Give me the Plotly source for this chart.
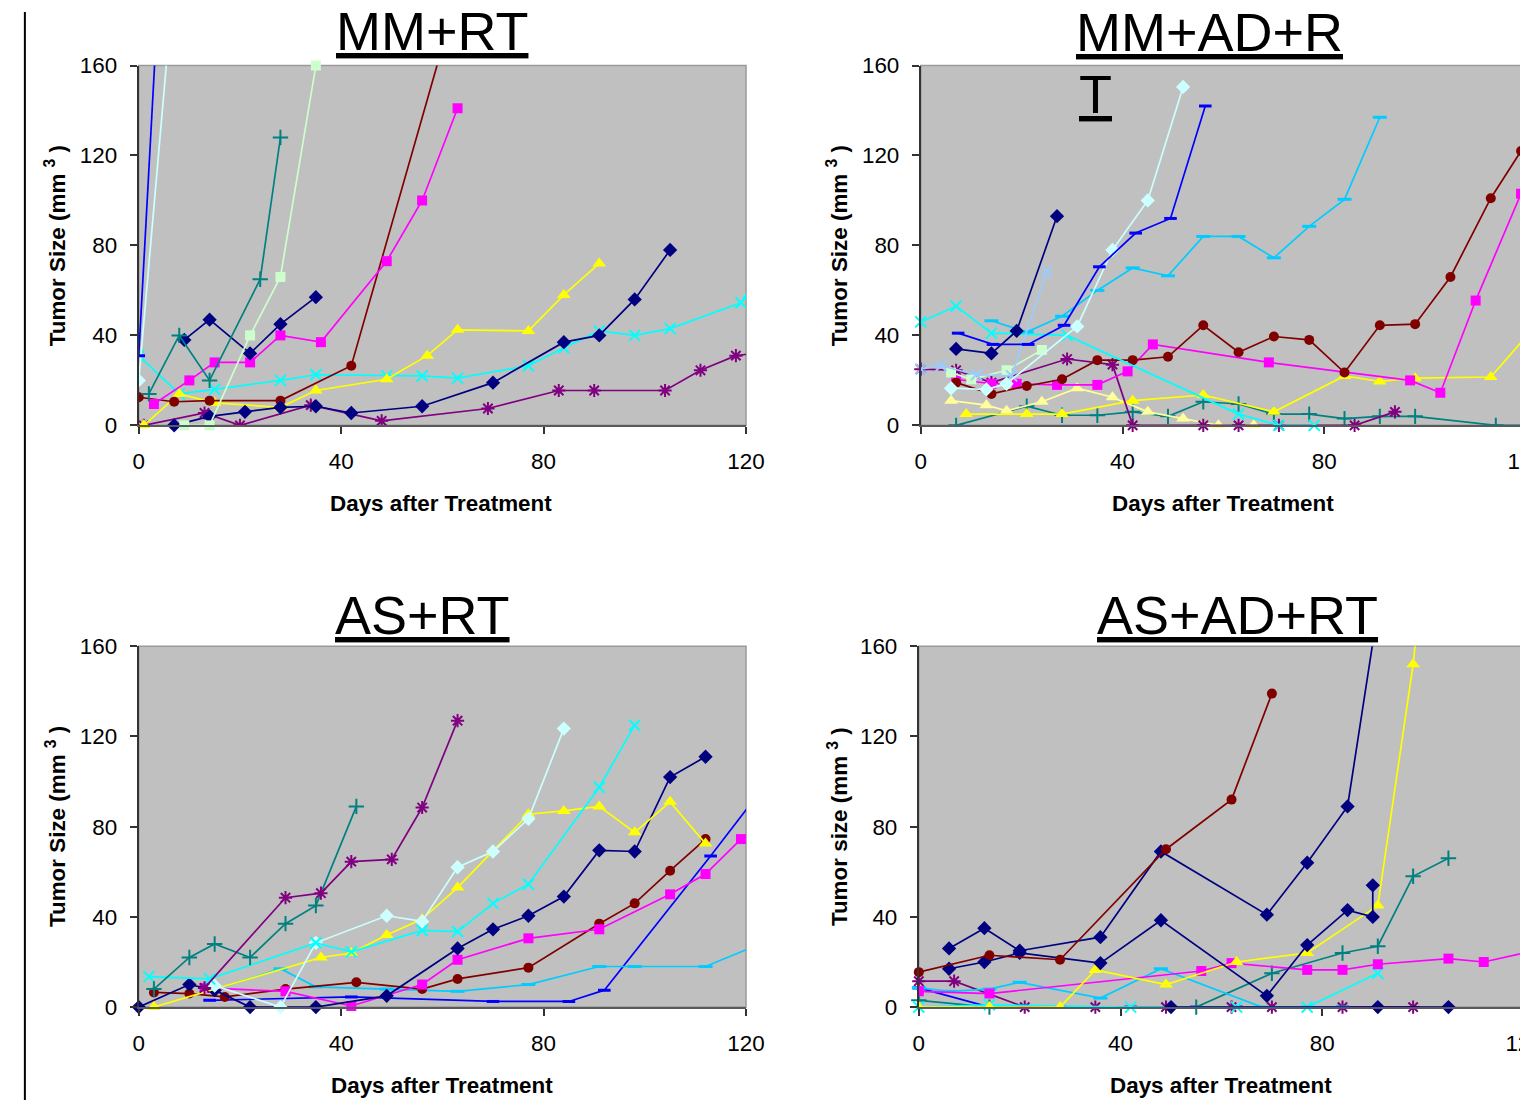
import plotly.graph_objects as go

# ------------------------------------------------------------------ data
# Panel 1: MM+RT  (days after treatment, tumor size mm3)
MMRT_BLUE_D = [0, 7]
MMRT_BLUE_V = [31, 320]
MMRT_LCYAN_D = [0, 7]
MMRT_LCYAN_V = [20, 200]
MMRT_TEAL_D = [2, 8, 14, 24, 28]
MMRT_TEAL_V = [14, 40, 20, 65, 128]
MMRT_LGREEN_D = [9, 14, 22, 28, 35]
MMRT_LGREEN_V = [0, 0, 40, 66, 160]
MMRT_NAVY1_D = [9, 14, 22, 28, 35]
MMRT_NAVY1_V = [38, 47, 32, 45, 57]
MMRT_NAVY2_D = [7, 14, 21, 28, 35, 42, 56, 70, 84, 91, 98, 105]
MMRT_NAVY2_V = [0, 4, 6, 8, 8.5, 5.5, 8.5, 19, 37, 40, 56, 78]
MMRT_MAGENTA_D = [3, 10, 15, 22, 28, 36, 49, 56, 63]
MMRT_MAGENTA_V = [9.5, 20, 28, 28, 40, 37, 73, 100, 141]
MMRT_MAROON_D = [0, 7, 14, 28, 42, 63]
MMRT_MAROON_V = [12.5, 10.5, 11, 11, 26.5, 192]
MMRT_YELLOW_D = [1, 8, 15, 28, 35, 49, 57, 63, 77, 84, 91]
MMRT_YELLOW_V = [0, 14, 10, 8, 15.5, 20.5, 31, 42.5, 42, 58, 72]
MMRT_CYAN_D = [0, 8, 15, 28, 35, 49, 56, 63, 77, 84, 91, 98, 105, 119, 126]
MMRT_CYAN_V = [31, 14, 16, 20, 22.5, 22, 22, 21, 26.5, 34.5, 42, 40, 43, 54.5, 81]
MMRT_PURPLE_D = [1, 13, 20, 34, 48, 69, 83, 90, 104, 111, 118, 125]
MMRT_PURPLE_V = [0, 5.5, 0, 9, 2, 7.5, 15.5, 15.5, 15.5, 24.5, 31, 33]

# Panel 2: MM+AD+RT
MAD_CYAN_D = [0, 7, 14, 29, 63, 71, 78]
MAD_CYAN_V = [46, 53, 41, 40, 5, 0, 0]
MAD_NAVY_D = [7, 14, 19, 27]
MAD_NAVY_V = [34, 32, 42, 93]
MAD_BLUE_D = [7.4, 14.3, 21.3, 28.4, 35.4, 42.6, 49.5, 56.4]
MAD_BLUE_V = [41, 36, 36, 44.5, 70.5, 85.5, 92, 142]
MAD_PALEBLUE_D = [0, 4, 11, 18, 25]
MAD_PALEBLUE_V = [25, 26.5, 22.5, 22, 68.5]
MAD_SKYBLUE_D = [14, 21, 28, 35, 42, 49, 56, 63, 70, 77, 84, 91]
MAD_SKYBLUE_V = [46.5, 41.5, 48.5, 60, 70, 66.5, 84, 84, 74.5, 88.5, 100.5, 137]
MAD_LCYAN_D = [6, 13, 17, 31, 38, 45, 52]
MAD_LCYAN_V = [16.5, 16, 18.5, 44, 78, 100, 150.5]
MAD_LGREEN_D = [6, 10, 17, 24]
MAD_LGREEN_V = [23.5, 20.5, 24.5, 33.5]
MAD_PURPLE_D = [0, 7, 14, 29, 38, 42, 56, 63, 71, 86, 94]
MAD_PURPLE_V = [25, 24.5, 19, 29.5, 27, 0, 0, 0, 0, 0, 6]
MAD_MAROON_D = [7, 14, 21, 28, 35, 42, 49, 56, 63, 70, 77, 84, 91, 98, 105, 113, 119]
MAD_MAROON_V = [19, 14, 17.5, 20.5, 29, 29, 30.5, 44.5, 32.5, 39.5, 38, 23.5, 44.5, 45, 66, 101, 122]
MAD_MAGENTA_D = [7, 14, 19, 27, 35, 41, 46, 69, 97, 103, 110, 119]
MAD_MAGENTA_V = [20.5, 18.5, 18.5, 18, 18, 24, 36, 28, 20, 14.5, 55.5, 103]
MAD_YELLOW_D = [9, 21, 28, 42, 56, 70, 84, 91, 98, 113, 121]
MAD_YELLOW_V = [5, 5, 5, 11, 13.5, 6, 22, 19.5, 21, 21.5, 42]
MAD_LYELLOW_D = [6, 13, 17, 24, 31, 38, 45, 52, 59, 66]
MAD_LYELLOW_V = [11, 9, 6.5, 10.5, 16.5, 12.5, 6, 3, 0, 0]
MAD_TEAL_D = [7, 21, 28, 35, 42, 49, 56, 63, 70, 77, 84, 91, 98, 114, 126]
MAD_TEAL_V = [0, 8.5, 4.5, 4.5, 6, 4, 10.5, 9.5, 5, 5, 3, 4, 4, 0, 0]

# Panel 3: AS+RT
ASRT_TEAL_D = [3, 10, 15, 22, 29, 35, 43]
ASRT_TEAL_V = [8, 22, 28, 22, 37, 45, 89]
ASRT_PURPLE_D = [13, 29, 36, 42, 50, 56, 63]
ASRT_PURPLE_V = [8.5, 48.5, 50.5, 64.5, 65.5, 88.5, 127]
ASRT_CYAN_D = [2, 14, 35, 42, 56, 63, 70, 77, 91, 98]
ASRT_CYAN_V = [13.5, 12.5, 28.5, 24.5, 34, 33.5, 46, 54.5, 97.5, 125]
ASRT_LCYAN_D = [15, 28, 35, 49, 56, 63, 70, 77, 84]
ASRT_LCYAN_V = [9.5, 0, 28.5, 40.5, 38, 62, 69, 83.5, 123.5]
ASRT_YELLOW_D = [3, 36, 42, 49, 56, 63, 77, 84, 91, 98, 105, 112]
ASRT_YELLOW_V = [0, 22, 24, 32, 39, 53, 85.5, 87, 89, 77.5, 91, 72.5]
ASRT_MAROON_D = [3, 10, 17, 29, 43, 56, 63, 77, 91, 98, 105, 112]
ASRT_MAROON_V = [6.5, 6, 4.5, 8, 11, 8, 12.5, 17.5, 37, 46, 60.5, 74.5]
ASRT_MAGENTA_D = [13, 29, 42, 56, 63, 77, 91, 105, 112, 119]
ASRT_MAGENTA_V = [8.5, 7, 0.5, 10, 21, 30.5, 34.5, 50, 59, 74.5]
ASRT_NAVY_D = [0, 10, 15, 22, 35, 49, 63, 70, 77, 84, 91, 98, 105, 112]
ASRT_NAVY_V = [0, 10, 7.5, 0, 0, 5, 26, 34.5, 40.5, 49, 69.5, 69, 102, 111]
ASRT_SKYBLUE_D = [14, 28, 35, 49, 63, 77, 91, 98, 112, 126]
ASRT_SKYBLUE_V = [7, 17, 9, 8, 7, 10, 18, 18, 18, 31]
ASRT_BLUE_D = [14, 42, 70, 85, 92, 113, 126]
ASRT_BLUE_V = [3, 4.5, 2.5, 2.5, 7.5, 67, 105]

# Panel 4: AS+AD+RT
ASAD_MAROON_D = [0, 14, 28, 49, 62, 70]
ASAD_MAROON_V = [15.5, 23, 21, 70, 92, 139]
ASAD_NAVYA_D = [6, 13, 20, 36, 48, 69, 77, 85, 91]
ASAD_NAVYA_V = [26, 35, 25, 31, 69, 41, 64, 89, 176]
ASAD_NAVYB_D = [6, 13, 20, 36, 48, 69, 77, 85, 90, 90]
ASAD_NAVYB_V = [17, 20, 24, 19.5, 38.5, 5, 27.5, 43, 40, 54]
ASAD_NAVYC_D = [50, 91, 105]
ASAD_NAVYC_V = [0, 0, 0]
ASAD_YELLOW_D = [0, 14, 28, 35, 49, 63, 77, 91, 98, 105]
ASAD_YELLOW_V = [0, 0, 0, 16.5, 10, 20, 24, 45, 152, 300]
ASAD_MAGENTA_D = [0, 14, 56, 62, 77, 84, 91, 105, 112, 126]
ASAD_MAGENTA_V = [7, 6, 16, 19.5, 16.5, 16.5, 19, 21.5, 20, 27]
ASAD_SKYBLUE_D = [0, 6, 14, 20, 36, 48, 68, 77, 84]
ASAD_SKYBLUE_V = [8.5, 7, 8, 11, 4, 17, 0, 0, 0]
ASAD_CYAN_D = [0, 14, 42, 63, 77, 91]
ASAD_CYAN_V = [0, 1, 0, 0, 0, 15]
ASAD_PURPLE_D = [0, 7, 21, 35, 49, 62, 70, 84, 98]
ASAD_PURPLE_V = [11.5, 11.5, 0, 0, 0, 0, 0, 0, 0]
ASAD_TEAL_D = [0, 14, 55, 70, 84, 91, 98, 105]
ASAD_TEAL_V = [3, 0, 0, 15, 24, 27, 58, 66]
ASAD_BLUE_D = [0, 14, 28, 42, 55, 63, 84]
ASAD_BLUE_V = [8.5, 0, 0, 0, 0, 0, 0]

X_TICKS = [0, 40, 80, 120]
Y_TICKS = [0, 40, 80, 120, 160]
TITLES = ["MM+RT", "MM+AD+RT", "AS+RT", "AS+AD+RT"]
Y_TITLES = ["Tumor Size (mm <sup>3</sup> )", "Tumor Size (mm <sup>3</sup> )",
            "Tumor Size (mm <sup>3</sup> )", "Tumor size (mm <sup>3</sup> )"]
X_TITLE = "Days after Treatment"

# ------------------------------------------------------------------ styles
STYLE = {
    'navy': ('#000080', 'diamond', 11, 0),
    'magenta': ('#FF00FF', 'square', 10, 0),
    'yellow': ('#FFFF00', 'triangle-up', 12, 0),
    'cyan': ('#00FFFF', 'x-thin-open', 11, 2),
    'purple': ('#800080', 'asterisk-open', 11, 2),
    'maroon': ('#800000', 'circle', 10, 0),
    'teal': ('#008080', 'cross-thin-open', 11, 2),
    'blue': ('#0000FF', 'line-ew-open', 9, 3),
    'skyblue': ('#00CCFF', 'line-ew-open', 10, 3),
    'lcyan': ('#CCFFFF', 'diamond', 11, 0),
    'lgreen': ('#CCFFCC', 'square', 10, 0),
    'lyellow': ('#FFFF99', 'triangle-up', 12, 0),
    'paleblue': ('#99CCFF', 'x-thin-open', 11, 2),
}

PANEL_SERIES = [
    [(MMRT_PURPLE_D, MMRT_PURPLE_V, 'purple'), (MMRT_CYAN_D, MMRT_CYAN_V, 'cyan'),
     (MMRT_YELLOW_D, MMRT_YELLOW_V, 'yellow'), (MMRT_MAROON_D, MMRT_MAROON_V, 'maroon'),
     (MMRT_MAGENTA_D, MMRT_MAGENTA_V, 'magenta'), (MMRT_NAVY2_D, MMRT_NAVY2_V, 'navy'),
     (MMRT_NAVY1_D, MMRT_NAVY1_V, 'navy'), (MMRT_LGREEN_D, MMRT_LGREEN_V, 'lgreen'),
     (MMRT_TEAL_D, MMRT_TEAL_V, 'teal'), (MMRT_LCYAN_D, MMRT_LCYAN_V, 'lcyan'),
     (MMRT_BLUE_D, MMRT_BLUE_V, 'blue')],
    [(MAD_TEAL_D, MAD_TEAL_V, 'teal'), (MAD_LYELLOW_D, MAD_LYELLOW_V, 'lyellow'),
     (MAD_YELLOW_D, MAD_YELLOW_V, 'yellow'), (MAD_PURPLE_D, MAD_PURPLE_V, 'purple'),
     (MAD_MAGENTA_D, MAD_MAGENTA_V, 'magenta'), (MAD_MAROON_D, MAD_MAROON_V, 'maroon'),
     (MAD_LGREEN_D, MAD_LGREEN_V, 'lgreen'), (MAD_CYAN_D, MAD_CYAN_V, 'cyan'),
     (MAD_SKYBLUE_D, MAD_SKYBLUE_V, 'skyblue'), (MAD_PALEBLUE_D, MAD_PALEBLUE_V, 'paleblue'),
     (MAD_LCYAN_D, MAD_LCYAN_V, 'lcyan'), (MAD_BLUE_D, MAD_BLUE_V, 'blue'),
     (MAD_NAVY_D, MAD_NAVY_V, 'navy')],
    [(ASRT_BLUE_D, ASRT_BLUE_V, 'blue'), (ASRT_SKYBLUE_D, ASRT_SKYBLUE_V, 'skyblue'),
     (ASRT_MAROON_D, ASRT_MAROON_V, 'maroon'), (ASRT_MAGENTA_D, ASRT_MAGENTA_V, 'magenta'),
     (ASRT_NAVY_D, ASRT_NAVY_V, 'navy'), (ASRT_YELLOW_D, ASRT_YELLOW_V, 'yellow'),
     (ASRT_LCYAN_D, ASRT_LCYAN_V, 'lcyan'), (ASRT_CYAN_D, ASRT_CYAN_V, 'cyan'),
     (ASRT_TEAL_D, ASRT_TEAL_V, 'teal'), (ASRT_PURPLE_D, ASRT_PURPLE_V, 'purple')],
    [(ASAD_BLUE_D, ASAD_BLUE_V, 'blue'), (ASAD_TEAL_D, ASAD_TEAL_V, 'teal'),
     (ASAD_PURPLE_D, ASAD_PURPLE_V, 'purple'), (ASAD_CYAN_D, ASAD_CYAN_V, 'cyan'),
     (ASAD_SKYBLUE_D, ASAD_SKYBLUE_V, 'skyblue'), (ASAD_MAGENTA_D, ASAD_MAGENTA_V, 'magenta'),
     (ASAD_YELLOW_D, ASAD_YELLOW_V, 'yellow'), (ASAD_NAVYC_D, ASAD_NAVYC_V, 'navy'),
     (ASAD_NAVYB_D, ASAD_NAVYB_V, 'navy'), (ASAD_NAVYA_D, ASAD_NAVYA_V, 'navy'),
     (ASAD_MAROON_D, ASAD_MAROON_V, 'maroon')],
]

# ------------------------------------------------------------------ geometry
# target positions (pixels of the final picture) are mapped to figure pixels,
# compensating the small scale/offset observed in the photographed page.
SX, BX = 0.985, 5.1
SY, BY = 0.978, 11.45


def fx(X):
    return (X - BX) / SX


def fy(Y):
    return (Y - BY) / SY


W, H = 1546, 1114
FS = 1 / ((SX + SY) / 2)   # font scale


def px(X):
    return fx(X) / W


def py(Y):
    return 1 - fy(Y) / H


# panel boxes in picture pixels: (x at day 0, x at day 120, y top, y bottom)
GEOM = [(138, 746, 65, 425), (921, 1527, 65, 425),
        (138, 746, 646, 1007), (919, 1525, 646, 1007)]

FONT = "Liberation Sans, Arial, sans-serif"
fig = go.Figure()

for i, series in enumerate(PANEL_SERIES):
    k = '' if i == 0 else str(i + 1)
    for d, v, key in series:
        col, sym, sz, lw = STYLE[key]
        out = any(val < 0 or val > 160 for val in v) or any(dd > 120 for dd in d)
        fig.add_trace(go.Scatter(
            x=d, y=v, mode='lines+markers',
            line=dict(color=col, width=1.7),
            marker=dict(symbol=sym, size=sz, color=col,
                        line=dict(color=col, width=lw)),
            xaxis='x' + k, yaxis='y' + k,
            cliponaxis=out, showlegend=False, hoverinfo='skip'))

layout = dict(
    width=W, height=H, margin=dict(l=0, r=0, t=0, b=0),
    paper_bgcolor='white', plot_bgcolor='#C0C0C0',
    font=dict(family=FONT, color='black'),
    showlegend=False,
)
TICKFONT = dict(size=22 * FS, family=FONT)
annotations = []
for i, (xl, xr, yt, yb) in enumerate(GEOM):
    k = '' if i == 0 else str(i + 1)
    layout['xaxis' + k] = dict(
        domain=[px(xl), min(px(xr), 1.0)], range=[0, 120], anchor='y' + k,
        tickvals=X_TICKS, ticks='outside', ticklen=7, tickwidth=1.5,
        tickcolor='#333333', showgrid=False, zeroline=False,
        showline=True, linecolor='#5a5a5a', linewidth=2, mirror=False,
        tickfont=TICKFONT, ticklabelstandoff=8)
    layout['yaxis' + k] = dict(
        domain=[py(yb), py(yt)], range=[0, 160], anchor='x' + k,
        tickvals=Y_TICKS, ticks='outside', ticklen=7, tickwidth=1.5,
        tickcolor='#333333', showgrid=False, zeroline=False,
        showline=True, linecolor='#333333', linewidth=2, mirror=False,
        tickfont=TICKFONT, ticklabelstandoff=8)

# axis titles (picture coordinates of their centres)
Y_TITLE_POS = [(55, 245), (838, 245), (55, 826), (838, 826)]
X_TITLE_POS = [(441, 503), (1224, 503), (442, 1085), (1222, 1085)]
for i in range(4):
    annotations.append(dict(
        text='<b>' + Y_TITLES[i] + '</b>', textangle=-90,
        x=px(Y_TITLE_POS[i][0]), y=py(Y_TITLE_POS[i][1]), xref='paper', yref='paper',
        xanchor='center', yanchor='middle', showarrow=False,
        font=dict(size=22 * FS, family=FONT)))
    annotations.append(dict(
        text='<b>' + X_TITLE + '</b>',
        x=px(X_TITLE_POS[i][0]), y=py(X_TITLE_POS[i][1]), xref='paper', yref='paper',
        xanchor='center', yanchor='middle', showarrow=False,
        font=dict(size=22 * FS, family=FONT)))

# panel titles (underlined); the second one wraps in the original
TFONT = dict(size=53 * FS, family=FONT)
annotations += [
    dict(text='<u>' + TITLES[0] + '</u>', x=px(432), y=py(30), xanchor='center'),
    dict(text='<u>' + TITLES[1][:-1] + '</u>', x=px(1074), y=py(31), xanchor='left'),
    dict(text='<u>' + TITLES[1][-1] + '</u>', x=px(1077), y=py(93), xanchor='left'),
    dict(text='<u>' + TITLES[2] + '</u>', x=px(422), y=py(615), xanchor='center'),
    dict(text='<u>' + TITLES[3] + '</u>', x=px(1238), y=py(615), xanchor='center'),
]
for a in annotations[-5:]:
    a.update(xref='paper', yref='paper', yanchor='middle', showarrow=False, font=TFONT)
layout['annotations'] = annotations

shapes = [dict(type='line', xref='paper', yref='paper', x0=px(24), x1=px(24),
               y0=0, y1=1, line=dict(color='black', width=2))]
# light grey frame (top & right edges of plot areas)
for (xl, xr, yt, yb) in GEOM:
    shapes.append(dict(type='rect', xref='paper', yref='paper',
                       x0=px(xl), x1=min(px(xr), 1.0), y0=py(yb), y1=py(yt),
                       line=dict(color='#9a9a9a', width=1.5), layer='below'))
layout['shapes'] = shapes

fig.update_layout(**layout)
fig.write_html("out.html", post_script=(
    "document.documentElement.style.overflow='hidden';"
    "document.body.style.overflow='hidden';"))
